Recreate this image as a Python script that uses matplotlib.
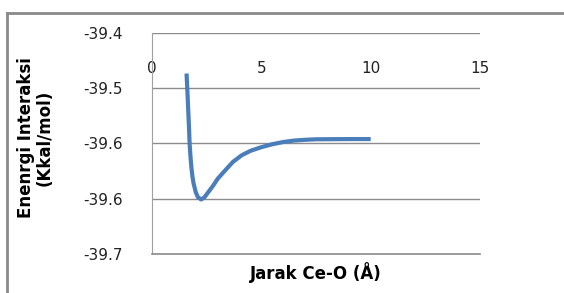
import numpy as np
import matplotlib.pyplot as plt
from matplotlib.lines import Line2D

# data
jarak = [1.58, 1.62, 1.65, 1.69, 1.72, 1.76, 1.80, 1.85, 1.90, 2.00, 2.10, 2.25,
         2.40, 2.60, 2.80, 3.00, 3.30, 3.70, 4.10, 4.50, 5.00, 5.50, 6.00, 6.50,
         7.00, 7.50, 8.00, 9.00, 10.00]
energi = [-39.455, -39.480, -39.500, -39.527, -39.550, -39.568, -39.582, -39.595,
          -39.604, -39.616, -39.623, -39.626, -39.623, -39.615, -39.607, -39.598,
          -39.588, -39.575, -39.566, -39.560, -39.555, -39.551, -39.548, -39.546,
          -39.545, -39.5443, -39.5442, -39.544, -39.544]

y_ticks = [-39.7, -39.625, -39.55, -39.475, -39.4]
y_labels = ["-39.7", "-39.6", "-39.6", "-39.5", "-39.4"]
x_ticks = [0, 5, 10, 15]

fig = plt.figure(figsize=(5.64, 2.93), dpi=100)
ax = fig.add_axes([0.2695, 0.1331, 0.5816, 0.7543])

ax.plot(jarak, energi, color="#4a7ebb", linewidth=3, solid_capstyle="butt")

ax.set_xlim(0, 15)
ax.set_ylim(-39.7, -39.4)
ax.set_yticks(y_ticks)
ax.set_yticklabels(y_labels)
ax.set_xticks(x_ticks)
ax.xaxis.tick_top()
ax.tick_params(axis="x", length=0, pad=-31, labelsize=11, labelcolor="#222222")
ax.tick_params(axis="y", length=0, pad=21, labelsize=11, labelcolor="#222222")

ax.grid(axis="y", color="#8c8c8c", linewidth=1)
ax.set_axisbelow(True)
for s in ["top", "right"]:
    ax.spines[s].set_visible(False)
ax.spines["left"].set_color("#a0a0a0")
ax.spines["bottom"].set_color("#8c8c8c")
ax.spines["bottom"].set_linewidth(1.2)

ax.set_xlabel("Jarak Ce-O (Å)", fontsize=12, fontweight="bold", labelpad=6)
fig.text(0.062, 0.53, "Enenrgi Interaksi\n(Kkal/mol)", rotation=90, fontsize=12,
         fontweight="bold", ha="center", va="center", linespacing=1.05)

# outer frame
fig.add_artist(Line2D([7 / 564, 7 / 564], [0, 1 - 13 / 293], color="#8a8a8a",
                      linewidth=2, transform=fig.transFigure))
fig.add_artist(Line2D([7 / 564, 1], [1 - 13 / 293, 1 - 13 / 293], color="#8a8a8a",
                      linewidth=2, transform=fig.transFigure))

plt.savefig("out.png", dpi=100)
